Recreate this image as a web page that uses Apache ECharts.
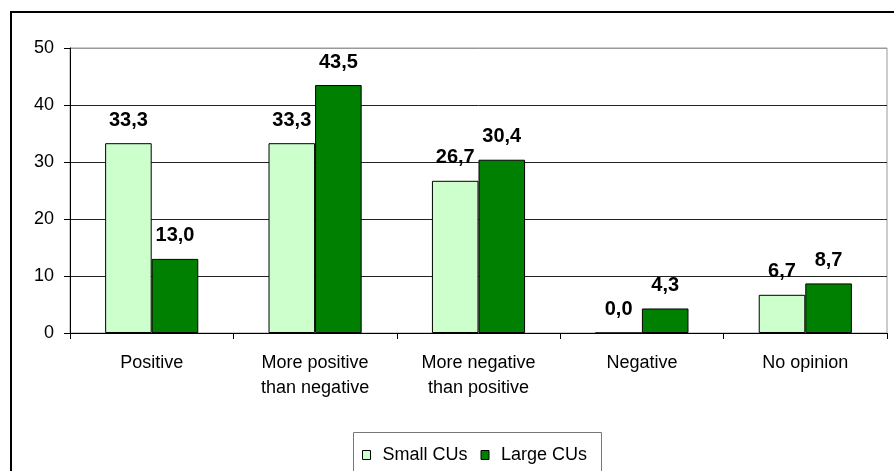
<!DOCTYPE html>
<html>
<head>
<meta charset="utf-8">
<script src="https://cdn.jsdelivr.net/npm/echarts@6/dist/echarts.min.js"></script>
<style>
  html, body { margin: 0; padding: 0; background: #fff; }
  #chart { width: 894px; height: 471px; }
</style>
</head>
<body>
<div id="chart"></div>
<script>
// Opinion categories and the share of respondents (%) per credit-union size
const categories = [
  'Positive',
  'More positive\nthan negative',
  'More negative\nthan positive',
  'Negative',
  'No opinion'
];
const smallCUs = [33.3, 33.3, 26.7, 0.0, 6.7];
const largeCUs = [13.0, 43.5, 30.4, 4.3, 8.7];
const seriesNames = ['Small CUs', 'Large CUs'];
const yTicks = { min: 0, max: 50, interval: 10 };

const FONT = '"Liberation Sans", Arial, sans-serif';
const fmt = p => p.value.toFixed(1).replace('.', ',');

const chart = echarts.init(document.getElementById('chart'), null, { renderer: 'canvas' });

const labelStyle = {
  show: true,
  position: 'top',
  distance: 13,
  formatter: fmt,
  fontFamily: FONT,
  fontWeight: 'bold',
  fontSize: 20,
  color: '#000'
};

chart.setOption({
  animation: false,
  backgroundColor: '#fff',
  textStyle: { fontFamily: FONT },
  grid: {
    left: 70, right: 7, top: 48, bottom: 138,
    show: true, borderColor: '#999', borderWidth: 1, backgroundColor: 'transparent'
  },
  legend: {
    data: seriesNames,
    left: 357,
    top: 441,
    itemWidth: 8,
    itemHeight: 9,
    itemGap: 13,
    icon: 'rect',
    textStyle: { fontFamily: FONT, fontSize: 18, color: '#000', padding: [0, 0, 0, 7] },
    itemStyle: { borderColor: '#000', borderWidth: 1 }
  },
  xAxis: {
    type: 'category',
    data: categories,
    axisLine: { lineStyle: { color: '#000', width: 1 } },
    axisTick: { show: true, length: 6, lineStyle: { color: '#000' } },
    axisLabel: {
      fontFamily: FONT, fontSize: 18, color: '#000',
      margin: 18, lineHeight: 25, interval: 0
    },
    splitLine: { show: false }
  },
  yAxis: {
    type: 'value',
    min: yTicks.min, max: yTicks.max, interval: yTicks.interval,
    axisLine: { show: true, lineStyle: { color: '#000', width: 1 } },
    axisTick: { show: true, length: 6, lineStyle: { color: '#000' } },
    axisLabel: { fontFamily: FONT, fontSize: 18, color: '#000', margin: 16 },
    splitLine: {
      show: true,
      lineStyle: { color: ['#222', '#222', '#222', '#222', '#222', '#999'], width: 1 }
    }
  },
  series: [
    {
      name: seriesNames[0],
      type: 'bar',
      data: smallCUs,
      barGap: '0%',
      barCategoryGap: '43%',
      itemStyle: { color: '#CCFFCC', borderColor: '#000', borderWidth: 1 },
      label: labelStyle
    },
    {
      name: seriesNames[1],
      type: 'bar',
      data: largeCUs,
      barGap: '0%',
      barCategoryGap: '43%',
      itemStyle: { color: '#008000', borderColor: '#000', borderWidth: 1 },
      label: labelStyle
    }
  ],
  graphic: [
    {
      // outer chart frame
      type: 'rect',
      silent: true,
      shape: { x: 11, y: 12, width: 900, height: 500 },
      style: { fill: 'none', stroke: '#000', lineWidth: 2 }
    },
    {
      // legend frame
      type: 'rect',
      silent: true,
      shape: { x: 353.5, y: 432.5, width: 248, height: 60 },
      style: { fill: 'none', stroke: '#777', lineWidth: 1 }
    }
  ]
});
</script>
</body>
</html>
